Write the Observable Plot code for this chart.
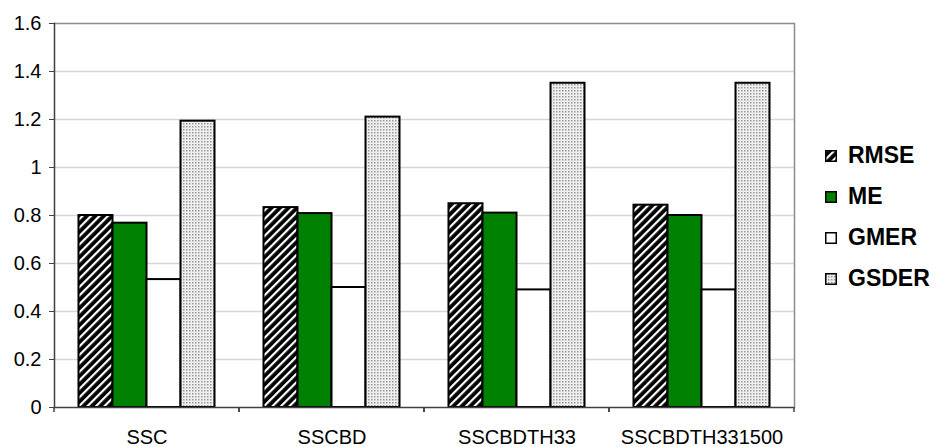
<!DOCTYPE html>
<html>
<head>
<meta charset="utf-8">
<script src="https://cdn.jsdelivr.net/npm/d3@7"></script>
<script src="https://cdn.jsdelivr.net/npm/@observablehq/plot@0.6"></script>
<style>
  body { margin: 0; background: #fff; }
  #chart { position: relative; width: 936px; height: 447px; font-family: "Liberation Sans", Arial, sans-serif; }
  #chart > svg { display: block; }
  #legend { position: absolute; left: 825px; top: 135px; }
  .item { display: flex; align-items: center; height: 41px; font-weight: bold; font-size: 23px; color: #000; }
  .item svg { margin-right: 11px; flex: none; }
</style>
</head>
<body>
<svg width="0" height="0" style="position:absolute">
  <defs>
    <pattern id="rmse-hatch" patternUnits="userSpaceOnUse" width="6" height="6" patternTransform="rotate(45)">
      <rect width="6" height="6" fill="#000"/>
      <rect width="2.2" height="6" fill="#fff"/>
    </pattern>
    <pattern id="gsder-dots" patternUnits="userSpaceOnUse" width="3" height="3">
      <rect width="3" height="3" fill="#efefef"/>
      <rect width="1.5" height="1.5" fill="#9a9a9a"/>
    </pattern>
  </defs>
</svg>
<div id="chart"><div id="legend"></div></div>
<script>
// Error statistics for each configuration
const categories = ["SSC", "SSCBD", "SSCBDTH33", "SSCBDTH331500"];
const seriesNames = ["RMSE", "ME", "GMER", "GSDER"];
const rmse  = [0.80, 0.833, 0.849, 0.843];
const me    = [0.768, 0.808, 0.81, 0.80];
const gmer  = [0.533, 0.50, 0.49, 0.49];
const gsder = [1.193, 1.21, 1.351, 1.351];
const yTicks = [0, 0.2, 0.4, 0.6, 0.8, 1, 1.2, 1.4, 1.6];
const seriesFills = ["url(#rmse-hatch)", "#008000", "#ffffff", "url(#gsder-dots)"];

const valuesBySeries = [rmse, me, gmer, gsder];
const rows = categories.flatMap((category, i) =>
  seriesNames.map((series, j) => ({category, series, value: valuesBySeries[j][i]}))
);

// Small tick marks at the edges of each category group, below the axis
function groupTicks(index, scales, values, dims) {
  const y = dims.height - dims.marginBottom;
  const g = d3.create("svg:g").attr("stroke", "#404040").attr("stroke-width", 1.5);
  for (const x of [dims.marginLeft, dims.width - dims.marginRight]) {
    g.append("line").attr("x1", x).attr("x2", x).attr("y1", y).attr("y2", y + 5);
  }
  return g.node();
}

const chart = Plot.plot({
  width: 936,
  height: 447,
  marginLeft: 54,
  marginRight: 142,
  marginTop: 23,
  marginBottom: 40,
  style: {fontFamily: "'Liberation Sans', Arial, sans-serif", fontSize: "20px", color: "#000", background: "#fff"},
  fx: {domain: categories, padding: 0, round: false, axis: null},
  x: {domain: seriesNames, paddingInner: 0, paddingOuter: 0.72, round: false, axis: null},
  y: {domain: [0, 1.6], axis: null},
  color: {domain: seriesNames, range: seriesFills},
  marks: [
    Plot.gridY(yTicks.slice(1, -1), {stroke: "#d6d6d6", strokeOpacity: 1, strokeWidth: 1.5}),
    Plot.ruleY([1.6], {stroke: "#8c8c8c", strokeWidth: 1.5}),
    Plot.frame({anchor: "right", facetAnchor: "right", stroke: "#8c8c8c", strokeWidth: 1.5}),
    Plot.barY(rows, {fx: "category", x: "series", y: "value", fill: "series", stroke: "#000", strokeWidth: 2}),
    Plot.ruleY([0], {stroke: "#404040", strokeWidth: 1.5}),
    Plot.frame({anchor: "left", facetAnchor: "left", stroke: "#404040", strokeWidth: 1.5}),
    Plot.axisY(yTicks, {tickSize: 5, tickPadding: 8, stroke: "#404040", tickFormat: d3.format("~g"), label: null}),
    Plot.axisFx({anchor: "bottom", tickSize: 0, tickPadding: 22, label: null}),
    groupTicks
  ]
});

const container = document.getElementById("chart");
container.insertBefore(chart, container.firstChild);

// Legend to the right of the plot
const legend = d3.select("#legend");
seriesNames.forEach((name, j) => {
  const item = legend.append("div").attr("class", "item");
  const sw = item.append("svg").attr("width", 12).attr("height", 12);
  sw.append("rect").attr("x", 0.75).attr("y", 0.75).attr("width", 10.5).attr("height", 10.5)
    .attr("fill", seriesFills[j]).attr("stroke", "#000").attr("stroke-width", 1.5);
  item.append("span").text(name);
});
</script>
</body>
</html>
